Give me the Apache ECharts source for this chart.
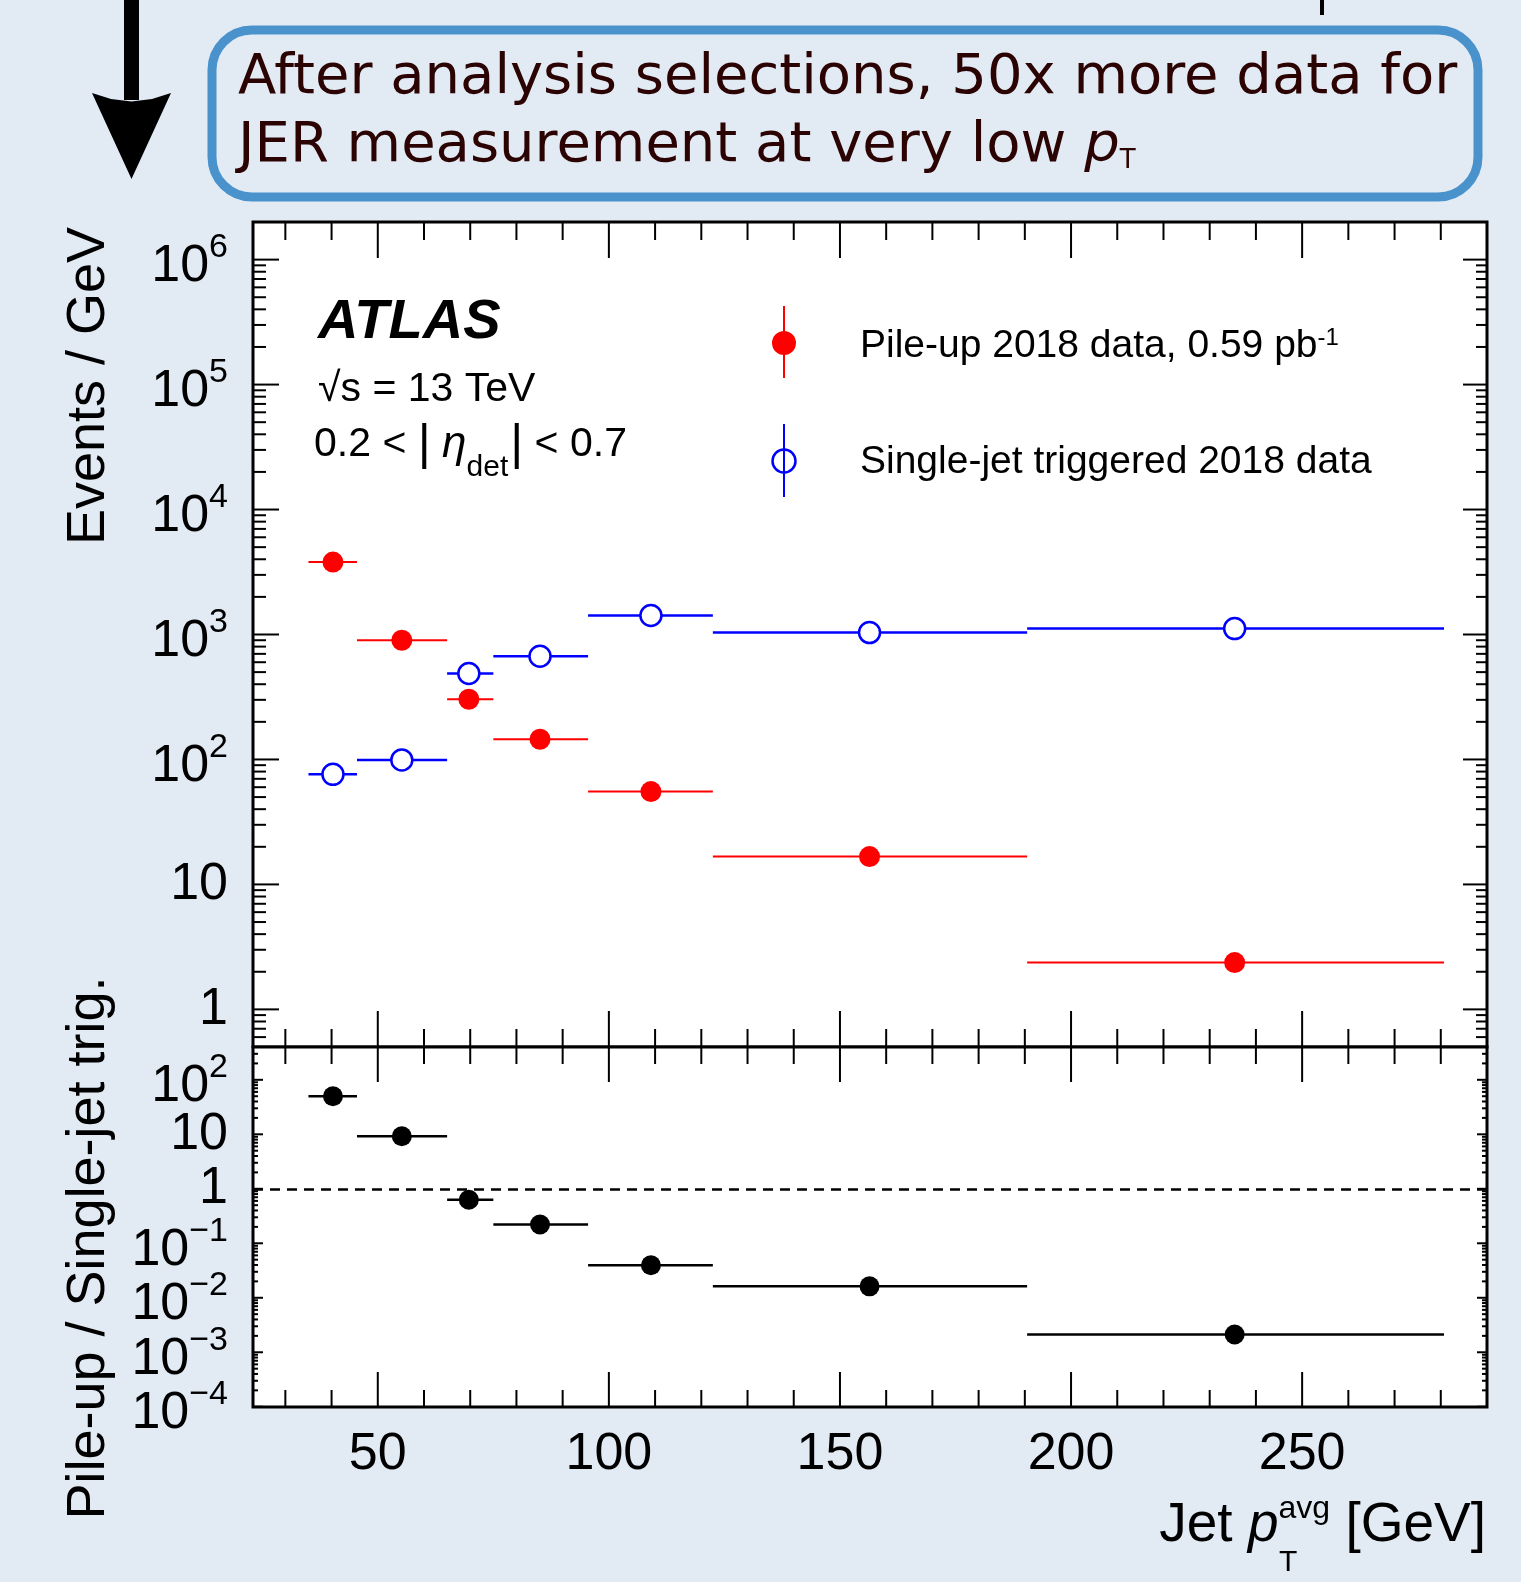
<!DOCTYPE html>
<html>
<head>
<meta charset="utf-8">
<script src="https://cdn.jsdelivr.net/npm/echarts@6/dist/echarts.min.js"></script>
<style>
html, body { margin: 0; padding: 0; background: #e2eaf4; }
#chart { width: 1521px; height: 1582px; }
</style>
</head>
<body>
<div id="chart"></div>
<script>
// jet pT avg bins [GeV]
const binLow  = [35, 45.5, 65, 75, 95.5, 122.5, 190.5];
const binHigh = [45.5, 65, 75, 95.5, 122.5, 190.5, 280.7];
const binMean = [40.3, 55.2, 69.7, 85.1, 109.1, 156.4, 235.4];

// events / GeV
const pileUp    = [3800, 900, 303, 145, 55.3, 16.7, 2.37];
const singleJet = [76, 99, 487, 670, 1420, 1036, 1115];

// pile-up / single-jet trig.
const ratio = [50, 9.2, 0.63, 0.221, 0.0395, 0.0162, 0.00212];

// axis ticks
const xMajor = [50, 100, 150, 200, 250];
const xMinor = [30, 40, 60, 70, 80, 90, 110, 120, 130, 140, 160, 170, 180, 190, 210, 220, 230, 240, 260, 270, 280];
const topDecades = [1, 10, 100, 1e3, 1e4, 1e5, 1e6];
const botDecades = [1e-4, 1e-3, 1e-2, 1e-1, 1, 10, 100];

const F = '"Liberation Sans", Arial, Helvetica, sans-serif';
const FD = '"DejaVu Sans", sans-serif';

// log minor ticks (2..9 x 10^k) inside [lo, hi]
function logMinor(lo, hi) {
    const out = [];
    for (let k = -5; k <= 7; k++) {
        for (let m = 2; m <= 9; m++) {
            const v = m * Math.pow(10, k);
            if (v > lo * 1.0001 && v < hi * 0.9999) out.push(v);
        }
    }
    return out;
}

function logLabel(v) {
    const e = Math.log10(v), k = Math.round(e);
    if (Math.abs(e - k) > 0.01) return '';
    if (k === 0) return '{d|1}';
    if (k === 1) return '{d|10}';
    return '{b|10}{s|' + (k < 0 ? '\u2212' + (-k) : k) + '}';
}

// label box kept short so neighbouring decades never count as overlapping
const yRich = {
    d: { fontSize: 52, lineHeight: 40, fontFamily: F, color: '#000' },
    b: { fontSize: 52, lineHeight: 40, height: 26, fontFamily: F, color: '#000', verticalAlign: 'bottom' },
    s: { fontSize: 34, lineHeight: 16, height: 16, fontFamily: F, color: '#000', verticalAlign: 'top' }
};

// ROOT style ticks on all four sides of a pad
function tickSeries(idx, yMajor, yMinor, len) {
    return {
        type: 'custom',
        xAxisIndex: idx,
        yAxisIndex: idx,
        silent: true,
        clip: false,
        z: 20,
        data: [[50, 1]],
        renderItem: function (params, api) {
            const cs = params.coordSys;
            const L = cs.x, R = cs.x + cs.width, T = cs.y, B = cs.y + cs.height;
            const kids = [];
            const seg = (x1, y1, x2, y2) => kids.push({
                type: 'line', shape: { x1, y1, x2, y2 }, style: { stroke: '#000', lineWidth: 2 }
            });
            xMajor.forEach(v => { const x = api.coord([v, 1])[0]; seg(x, T, x, T + len.xMaj); seg(x, B, x, B - len.xMaj); });
            xMinor.forEach(v => { const x = api.coord([v, 1])[0]; seg(x, T, x, T + len.xMin); seg(x, B, x, B - len.xMin); });
            yMajor.forEach(v => { const y = api.coord([50, v])[1]; seg(L, y, L + len.yMaj, y); seg(R, y, R - len.yMajR, y); });
            yMinor.forEach(v => { const y = api.coord([50, v])[1]; seg(L, y, L + len.yMin, y); seg(R, y, R - len.yMinR, y); });
            return { type: 'group', children: kids };
        }
    };
}

// horizontal bin-width bars
function barSeries(idx, values, color, width) {
    return {
        type: 'custom',
        xAxisIndex: idx,
        yAxisIndex: idx,
        silent: true,
        z: 3,
        encode: { x: [0, 1], y: 2 },
        data: values.map((v, i) => [binLow[i], binHigh[i], v]),
        renderItem: function (params, api) {
            const a = api.coord([api.value(0), api.value(2)]);
            const b = api.coord([api.value(1), api.value(2)]);
            return { type: 'line', shape: { x1: a[0], y1: a[1], x2: b[0], y2: b[1] }, style: { stroke: color, lineWidth: width } };
        }
    };
}

const chart = echarts.init(document.getElementById('chart'));

const option = {
    animation: false,
    backgroundColor: '#e2eaf4',
    grid: [
        { left: 253, top: 222, width: 1234, height: 825, show: true, backgroundColor: '#fff', borderColor: '#000', borderWidth: 3, outerBoundsMode: 'none' },
        { left: 253, top: 1047, width: 1234, height: 360, show: true, backgroundColor: '#fff', borderColor: '#000', borderWidth: 3, outerBoundsMode: 'none' }
    ],
    xAxis: [
        {
            gridIndex: 0, type: 'value', min: 23, max: 290,
            axisLine: { show: false }, axisTick: { show: false }, splitLine: { show: false }, axisLabel: { show: false }
        },
        {
            gridIndex: 1, type: 'value', min: 23, max: 290,
            axisLine: { show: false }, axisTick: { show: false }, splitLine: { show: false },
            axisLabel: { customValues: xMajor, fontSize: 52, fontFamily: F, color: '#000', margin: 22, hideOverlap: false }
        }
    ],
    yAxis: [
        {
            gridIndex: 0, type: 'log', logBase: 10, min: 0.5, max: 2e6,
            axisLine: { show: false }, axisTick: { show: false }, splitLine: { show: false }, minorTick: { show: false },
            axisLabel: { formatter: logLabel, rich: yRich, margin: 25, hideOverlap: false, showMinLabel: false, showMaxLabel: false }
        },
        {
            // min a hair below 1e-4 so that 10^-4 is a regular tick, not the edge label
            gridIndex: 1, type: 'log', logBase: 10, min: 0.99e-4, max: 400,
            axisLine: { show: false }, axisTick: { show: false }, splitLine: { show: false }, minorTick: { show: false },
            axisLabel: { formatter: logLabel, rich: yRich, margin: 25, hideOverlap: false, showMinLabel: false, showMaxLabel: false }
        }
    ],
    series: [
        barSeries(0, pileUp, '#ff0000', 2),
        barSeries(0, singleJet, '#0000ff', 2.5),
        barSeries(1, ratio, '#000', 2.5),
        {
            name: 'Pile-up 2018 data', type: 'scatter', xAxisIndex: 0, yAxisIndex: 0, z: 6,
            symbol: 'circle', symbolSize: 21,
            itemStyle: { color: '#ff0000', opacity: 1 },
            data: pileUp.map((v, i) => [binMean[i], v])
        },
        {
            name: 'Single-jet triggered 2018 data', type: 'scatter', xAxisIndex: 0, yAxisIndex: 0, z: 5,
            symbol: 'circle', symbolSize: 21,
            itemStyle: { color: '#fff', borderColor: '#0000ff', borderWidth: 2.5, opacity: 1 },
            data: singleJet.map((v, i) => [binMean[i], v])
        },
        {
            name: 'ratio', type: 'scatter', xAxisIndex: 1, yAxisIndex: 1, z: 6,
            symbol: 'circle', symbolSize: 20,
            itemStyle: { color: '#000', opacity: 1 },
            data: ratio.map((v, i) => [binMean[i], v]),
            markLine: {
                silent: true, symbol: ['none', 'none'], label: { show: false },
                lineStyle: { color: '#000', width: 2.5, type: [10, 7], opacity: 1 },
                data: [{ yAxis: 1 }]
            }
        },
        tickSeries(0, topDecades, logMinor(0.5, 2e6), { xMaj: 36, xMin: 18, yMaj: 26, yMin: 13, yMajR: 24, yMinR: 11 }),
        tickSeries(1, botDecades, logMinor(0.99e-4, 400), { xMaj: 35, xMin: 17, yMaj: 10, yMin: 5, yMajR: 10, yMinR: 5 })
    ],
    graphic: [
        // arrow at top left
        { type: 'rect', z: 100, shape: { x: 124, y: 0, width: 15, height: 100 }, style: { fill: '#000' } },
        {
            type: 'polygon', z: 100,
            shape: { points: [[92, 93], [111, 99], [131.5, 101.5], [152, 99], [171, 93], [131.5, 179]] },
            style: { fill: '#000' }
        },
        { type: 'rect', z: 100, shape: { x: 1320, y: 0, width: 4, height: 15 }, style: { fill: '#000' } },
        // annotation box
        { type: 'rect', z: 100, shape: { x: 212, y: 30, width: 1266, height: 167, r: 40 }, style: { fill: 'none', stroke: '#4a92cc', lineWidth: 9 } },
        {
            type: 'text', z: 101, x: 238, y: 78,
            style: { text: 'After analysis selections, 50x more data for', fontSize: 56, fontFamily: FD, fill: '#2b0303', align: 'left', verticalAlign: 'middle' }
        },
        {
            type: 'text', z: 101, x: 238, y: 146,
            style: {
                text: '{n|JER measurement at very low }{p|p}{t|T}', align: 'left', verticalAlign: 'middle',
                rich: {
                    n: { fontSize: 56, lineHeight: 56, fontFamily: FD, fill: '#2b0303' },
                    p: { fontSize: 56, lineHeight: 56, fontFamily: FD, fontStyle: 'italic', fill: '#2b0303' },
                    t: { fontSize: 26, lineHeight: 26, fontFamily: FD, fill: '#2b0303', verticalAlign: 'bottom' }
                }
            }
        },
        // ATLAS label
        {
            type: 'text', z: 101, x: 318, y: 323,
            style: { text: 'ATLAS', fontSize: 56, fontFamily: F, fontWeight: 'bold', fontStyle: 'italic', fill: '#000', align: 'left', verticalAlign: 'middle' }
        },
        {
            type: 'text', z: 101, x: 318, y: 390,
            style: { text: '\u221As = 13 TeV', fontSize: 41, fontFamily: F, fill: '#000', align: 'left', verticalAlign: 'middle' }
        },
        {
            type: 'text', z: 101, x: 314, y: 445,
            style: {
                text: '{n|0.2 < }{bar||}{n| }{eta|\u03B7}{det|det}{bar||}{n| < 0.7}', align: 'left', verticalAlign: 'middle',
                rich: {
                    n: { fontSize: 41, lineHeight: 41, fontFamily: F, fill: '#000' },
                    bar: { fontSize: 50, lineHeight: 56, fontFamily: F, fill: '#000' },
                    eta: { fontSize: 44, lineHeight: 41, fontFamily: F, fontStyle: 'italic', fill: '#000' },
                    det: { fontSize: 30, lineHeight: 12, height: 10, fontFamily: F, fill: '#000', verticalAlign: 'bottom', padding: [0, 2, 0, 0] }
                }
            }
        },
        // legend
        { type: 'line', z: 101, shape: { x1: 784, y1: 306, x2: 784, y2: 378 }, style: { stroke: '#ff0000', lineWidth: 2 } },
        { type: 'circle', z: 102, shape: { cx: 784, cy: 343, r: 12 }, style: { fill: '#ff0000' } },
        {
            type: 'text', z: 101, x: 860, y: 346,
            style: {
                text: '{n|Pile-up 2018 data, 0.59 pb}{s|-1}', align: 'left', verticalAlign: 'middle',
                rich: {
                    n: { fontSize: 39, lineHeight: 39, fontFamily: F, fill: '#000' },
                    s: { fontSize: 24, lineHeight: 24, fontFamily: F, fill: '#000', verticalAlign: 'top' }
                }
            }
        },
        { type: 'line', z: 101, shape: { x1: 784, y1: 424, x2: 784, y2: 497 }, style: { stroke: '#0000ff', lineWidth: 2 } },
        { type: 'circle', z: 102, shape: { cx: 784, cy: 461, r: 11.5 }, style: { fill: 'none', stroke: '#0000ff', lineWidth: 2.5 } },
        {
            type: 'text', z: 101, x: 860, y: 462,
            style: { text: 'Single-jet triggered 2018 data', fontSize: 39, fontFamily: F, fill: '#000', align: 'left', verticalAlign: 'middle' }
        },
        // axis titles
        {
            type: 'text', z: 101, x: 89, y: 386, rotation: Math.PI / 2,
            style: { text: 'Events / GeV', fontSize: 54, fontFamily: F, fill: '#000', align: 'center', verticalAlign: 'middle' }
        },
        {
            type: 'text', z: 101, x: 89, y: 1248, rotation: Math.PI / 2,
            style: { text: 'Pile-up / Single-jet trig.', fontSize: 54, fontFamily: F, fill: '#000', align: 'center', verticalAlign: 'middle' }
        },
        {
            type: 'text', z: 101, x: 1486, y: 1526,
            style: {
                text: '{n|Jet }{p|p}{s|avg}{n| [GeV]}', align: 'right', verticalAlign: 'middle',
                rich: {
                    n: { fontSize: 55, lineHeight: 55, fontFamily: F, fill: '#000' },
                    p: { fontSize: 55, lineHeight: 55, fontFamily: F, fontStyle: 'italic', fill: '#000' },
                    s: { fontSize: 32, lineHeight: 28, height: 21, fontFamily: F, fill: '#000', verticalAlign: 'top' }
                }
            }
        },
        {
            type: 'text', z: 101, x: 1279, y: 1563,
            style: { text: 'T', fontSize: 30, fontFamily: F, fill: '#000', align: 'left', verticalAlign: 'middle' }
        }
    ]
};

chart.setOption(option);
</script>
</body>
</html>
